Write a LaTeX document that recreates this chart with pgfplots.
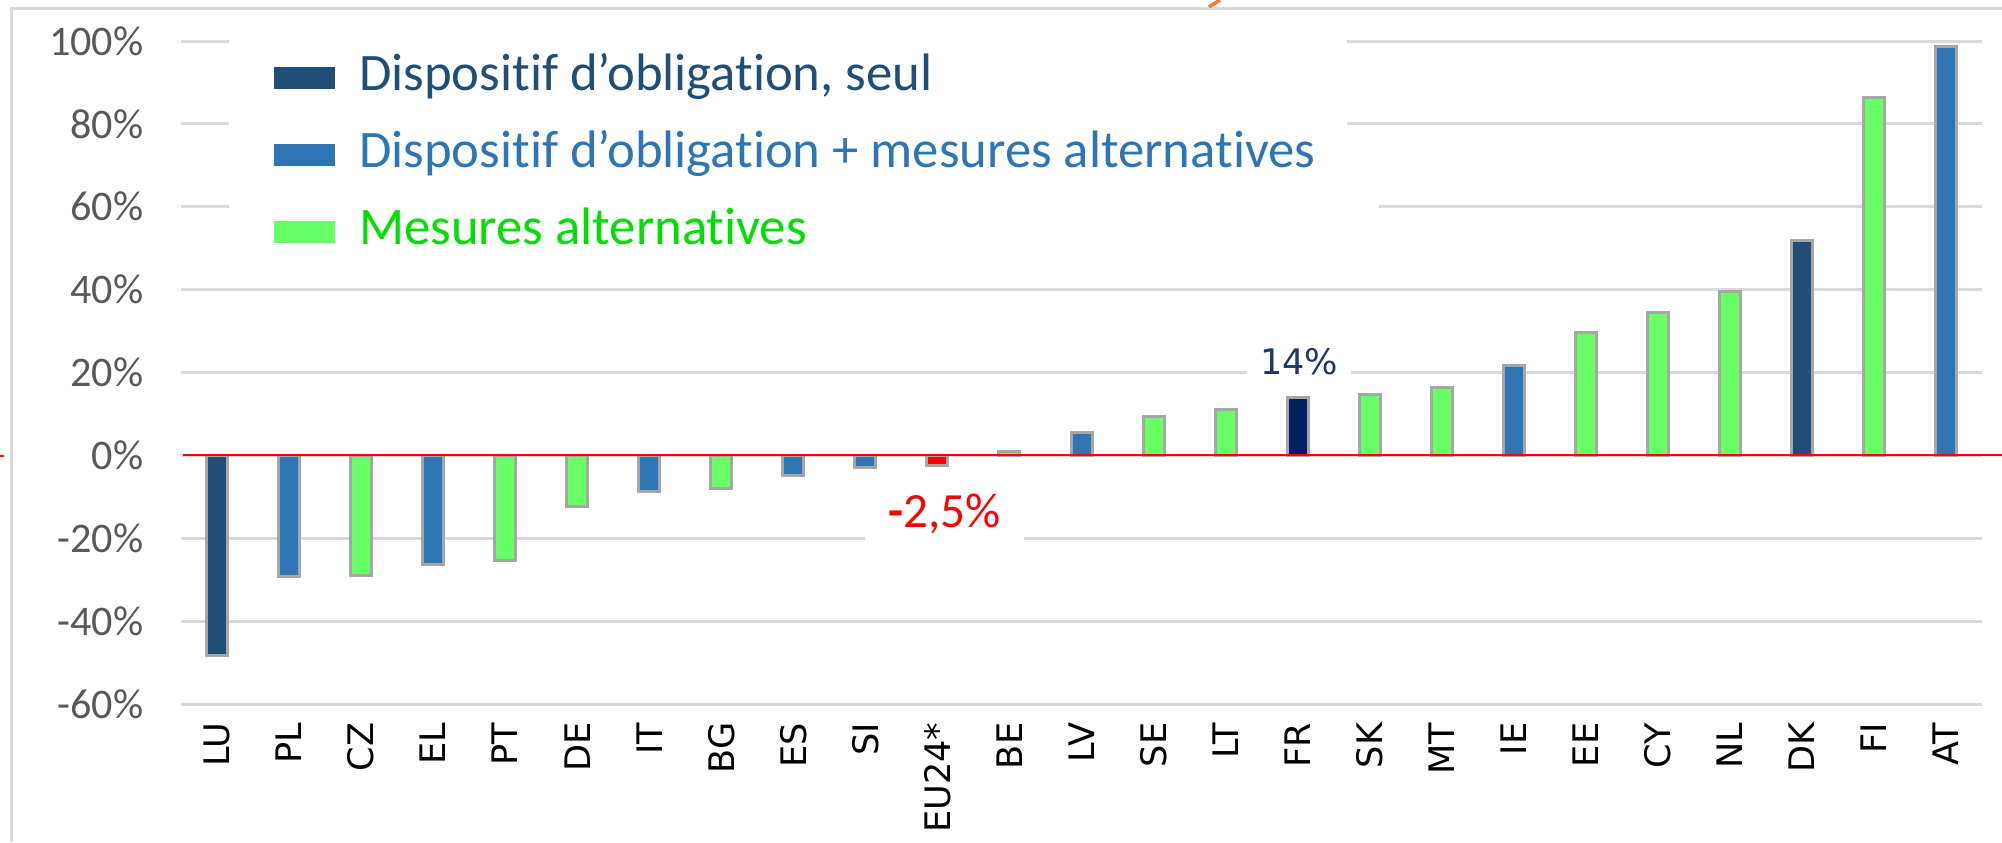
\documentclass[border=0pt]{standalone}
\usepackage{pgfplots}
\pgfplotsset{compat=1.18}
\usepackage{fontspec}
\setmainfont{Carlito}[Ligatures=NoCommon]
\newfontfamily\dejavu{DejaVu Sans}
\definecolor{navyA}{HTML}{1F4E79}
\definecolor{navyFR}{HTML}{002060}
\definecolor{blueB}{HTML}{2E75B6}
\definecolor{greenC}{HTML}{66FF66}
\definecolor{greenT}{HTML}{00E000}
\definecolor{gridc}{HTML}{D9D9D9}
\definecolor{tickc}{HTML}{595959}
\definecolor{barline}{HTML}{A6A6A6}
\definecolor{orangeC}{HTML}{ED7D31}
\definecolor{label14}{HTML}{1F3864}

\begin{document}
\begin{tikzpicture}
\path[use as bounding box] (0,0) rectangle (200.2mm,84.2mm);
% chart frame and bits outside the plot
\draw[gridc, line width=0.3mm] (1.1mm,0) -- (1.1mm,83.3mm) -- (200.2mm,83.3mm);
\draw[orangeC, line width=0.35mm] (122.0mm,84.2mm) -- (120.9mm,83.5mm);
\draw[red, line width=0.2mm] (0,38.6mm) -- (0.4mm,38.6mm);

\begin{axis}[
  at={(18.1mm,13.8mm)}, anchor=south west,
  width=180.1mm, height=66.3mm, scale only axis,
  xmin=-0.5, xmax=24.5, ymin=-60, ymax=100,
  clip=false,
  axis line style={draw=none},
  major tick length=0pt,
  ymajorgrids, grid style={gridc, line width=0.3mm},
  ytick={-60,-40,...,100},
  yticklabels={-60\%,-40\%,-20\%,0\%,20\%,40\%,60\%,80\%,100\%},
  yticklabel style={font=\fontsize{12}{14}\selectfont, text=tickc, anchor=east, inner sep=0pt, xshift=-3.7mm},
  xtick={0,...,24},
  xticklabels={LU,PL,CZ,EL,PT,DE,IT,BG,ES,SI,EU24*,BE,LV,SE,LT,FR,SK,MT,IE,EE,CY,NL,DK,FI,AT},
  xticklabel style={yshift=-1.8mm, rotate=90, anchor=east, inner sep=0pt, font=\dejavu\fontsize{10}{12}\selectfont, text=black},
  legend image code/.code={\fill[#1,draw=none] (0mm,-1.1mm) rectangle (6.1mm,1.1mm); \path (8.4mm,0);},
  legend style={at={(axis cs:0.777,96.8)}, anchor=north west, draw=none, fill=none, inner sep=0pt,
    row sep=3.1mm, font=\fontsize{15}{18}\selectfont,
    nodes={inner sep=0pt, text height=3.6mm, text depth=1mm}},
  legend cell align=left,
]
% white legend background over the grid
\fill[white] (axis cs:0.166,58) rectangle (axis cs:15.69,106);
\fill[white] (axis cs:15.69,58) rectangle (axis cs:16.13,62);

\addplot[ybar, bar width=2.1mm, fill=navyA, draw=barline, line width=0.3mm] coordinates {
  (0,-48.3) (22,51.8)
};
\addlegendentry{\textcolor{navyA}{Dispositif d’obligation, seul}}

\addplot[ybar, bar width=2.1mm, fill=blueB, draw=barline, line width=0.3mm] coordinates {
  (1,-29.2) (3,-26.3) (6,-8.6) (8,-4.9) (9,-3.0) (12,5.6) (18,21.6) (24,98.6)
};
\addlegendentry{\textcolor{blueB}{Dispositif d’obligation + mesures alternatives}}

\addplot[ybar, bar width=2.1mm, fill=greenC, draw=barline, line width=0.3mm] coordinates {
  (2,-29.0) (4,-25.3) (5,-12.3) (7,-8.0) (11,1.0) (13,9.3) (14,11.1) (16,14.8)
  (17,16.4) (19,29.6) (20,34.5) (21,39.5) (23,86.3)
};
\addlegendentry{\textcolor{greenT}{Mesures alternatives}}

\addplot[ybar, bar width=2.1mm, fill=navyFR, draw=barline, line width=0.3mm, forget plot] coordinates {
  (15,14.0)
};
\addplot[ybar, bar width=2.1mm, fill=red, draw=barline, line width=0.3mm, forget plot] coordinates {
  (10,-2.5)
};

% zero line
\draw[red, line width=0.2mm] (axis cs:-0.47,0) -- (axis cs:24.78,0);

\node[anchor=base, fill=white, inner xsep=1.3mm, inner ysep=0.8mm, text=label14,
  font=\dejavu\fontsize{10}{12}\selectfont] at (axis cs:15.02,19.5) {14\%};
\node[anchor=base, fill=white, inner xsep=2.3mm, inner ysep=1.5mm, text=red,
  font=\fontsize{14}{16}\selectfont] at (axis cs:10.1,-17.4) {{\bfseries -}2,5\%};
\end{axis}
\end{tikzpicture}
\end{document}
